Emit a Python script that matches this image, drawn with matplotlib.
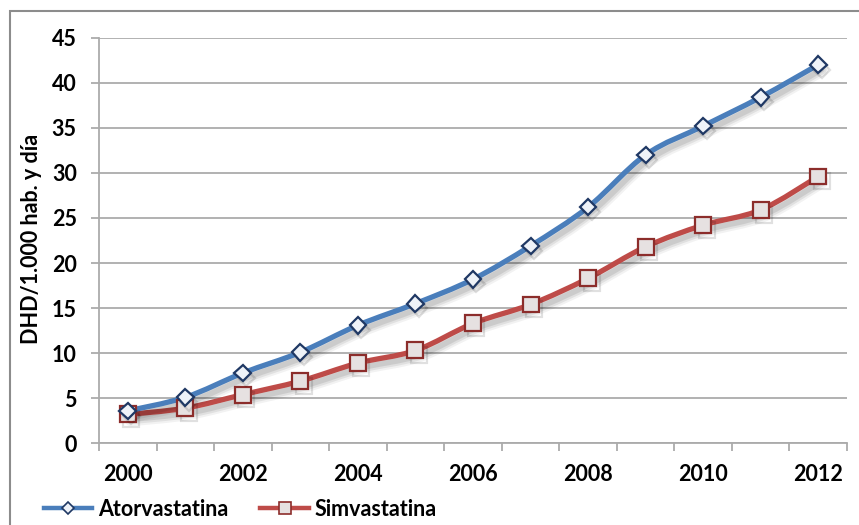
import matplotlib
matplotlib.use("Agg")
import matplotlib.pyplot as plt
import numpy as np
from matplotlib.path import Path
from matplotlib.patches import PathPatch, Rectangle
from matplotlib.lines import Line2D
import matplotlib.patheffects as pe

plt.rcParams['font.family'] = ['Lato', 'DejaVu Sans']

years = [2000, 2001, 2002, 2003, 2004, 2005, 2006, 2007, 2008, 2009, 2010, 2011, 2012]
atorvastatina = [3.6, 5.1, 7.8, 10.1, 13.1, 15.5, 18.2, 21.9, 26.2, 32.0, 35.2, 38.4, 42.0]
simvastatina = [3.2, 3.9, 5.4, 6.9, 8.9, 10.3, 13.3, 15.4, 18.3, 21.8, 24.2, 25.9, 29.6]
y_ticks = [0, 5, 10, 15, 20, 25, 30, 35, 40, 45]
x_labels = ['2000', '', '2002', '', '2004', '', '2006', '', '2008', '', '2010', '', '2012']
ylabel = 'DHD/1.000 hab. y día'

BLUE = '#4A7EBB'
BLUE_EDGE = '#1F3864'
RED = '#BE4B48'
RED_EDGE = '#8C2D2B'
GRID = '#ABABAB'
TICK_FS = 15.5

fig = plt.figure(figsize=(8.59, 5.25), dpi=100)
ax = fig.add_axes([99 / 859, 1 - 443.3 / 525, (847 - 99) / 859, (443.3 - 37.7) / 525])

x = np.arange(len(years))


def smooth_path(xs, ys):
    """Cubic Bezier path through the points (Catmull-Rom style tangents)."""
    pts = np.column_stack([xs, ys]).astype(float)
    n = len(pts)
    verts = [pts[0]]
    codes = [Path.MOVETO]
    for i in range(n - 1):
        p0 = pts[i - 1] if i > 0 else pts[i]
        p1 = pts[i]
        p2 = pts[i + 1]
        p3 = pts[i + 2] if i + 2 < n else pts[i + 1]
        c1 = p1 + (p2 - p0) / 6.0
        c2 = p2 - (p3 - p1) / 6.0
        verts += [c1, c2, p2]
        codes += [Path.CURVE4] * 3
    return Path(np.array(verts), codes)


shadow = [
    pe.SimpleLineShadow(offset=(2.5, -3.5), shadow_color='#000000', alpha=0.05, linewidth=10),
    pe.SimpleLineShadow(offset=(2.5, -3.5), shadow_color='#000000', alpha=0.07, linewidth=7),
    pe.SimpleLineShadow(offset=(2.5, -3.5), shadow_color='#000000', alpha=0.09, linewidth=4),
    pe.Normal(),
]
mshadow = [
    pe.SimpleLineShadow(offset=(2.5, -3.5), shadow_color='#000000', alpha=0.12),
    pe.Normal(),
]

series = [
    (atorvastatina, BLUE, BLUE_EDGE, 'D', 8.5, '#EEF2F8', 'Atorvastatina'),
    (simvastatina, RED, RED_EDGE, 's', 11.5, '#E6E1E1', 'Simvastatina'),
]

for vals, col, ecol, mk, ms, mfc, name in series[::-1]:
    patch = PathPatch(smooth_path(x, vals), facecolor='none', edgecolor=col,
                      linewidth=3.8, capstyle='round', joinstyle='round', zorder=3)
    patch.set_path_effects(shadow)
    ax.add_patch(patch)
for vals, col, ecol, mk, ms, mfc, name in series[::-1]:
    ax.plot(x, vals, linestyle='none', marker=mk, markersize=ms,
            markerfacecolor=mfc, markeredgecolor=ecol, markeredgewidth=1.6,
            zorder=4, path_effects=mshadow)

ax.set_xlim(-0.5, len(years) - 0.5)
ax.set_ylim(0, 45)
ax.set_yticks(y_ticks)
ax.set_yticklabels([str(v) for v in y_ticks], fontsize=TICK_FS, fontweight='bold')
ax.set_xticks(x)
ax.set_xticklabels(x_labels, fontsize=TICK_FS, fontweight='bold')
ax.set_xticks(np.arange(-0.5, len(years)), minor=True)
ax.tick_params(axis='x', which='major', length=0, pad=15)
ax.tick_params(axis='x', which='minor', length=6, width=1.3, color=GRID, direction='out')
ax.tick_params(axis='y', which='major', length=6, width=1.3, color=GRID, direction='out', pad=10)

ax.grid(axis='y', color=GRID, linewidth=1.3)
ax.set_axisbelow(True)
for s in ['top', 'right']:
    ax.spines[s].set_visible(False)
for s in ['left', 'bottom']:
    ax.spines[s].set_color(GRID)
    ax.spines[s].set_linewidth(1.3)

fig.text(31 / 859, 1 - 239 / 525, ylabel, rotation=90, ha='center', va='center',
         fontsize=TICK_FS, fontweight='bold')

handles = [
    Line2D([], [], color=BLUE, linewidth=3.2, marker='D', markersize=6.5,
           markerfacecolor='#EEF2F8', markeredgecolor=BLUE_EDGE, markeredgewidth=1.2),
    Line2D([], [], color=RED, linewidth=3.2, marker='s', markersize=9,
           markerfacecolor='#E6E1E1', markeredgecolor=RED_EDGE, markeredgewidth=1.2),
]
fig.legend(handles, ['Atorvastatina', 'Simvastatina'], loc='center left',
           bbox_to_anchor=(44 / 859, 1 - 509 / 525), ncol=2, frameon=False,
           prop={'size': TICK_FS, 'weight': 'bold'}, handlelength=2.25,
           handletextpad=0.25, columnspacing=1.5, borderaxespad=0, borderpad=0)

fig.patches.append(Rectangle((10 / 859, -0.02), 1.0, 1 - 11 / 525 + 0.02,
                             transform=fig.transFigure, fill=False,
                             edgecolor='#8C8C8C', linewidth=1.5))

fig.savefig('out.png', dpi=100)
